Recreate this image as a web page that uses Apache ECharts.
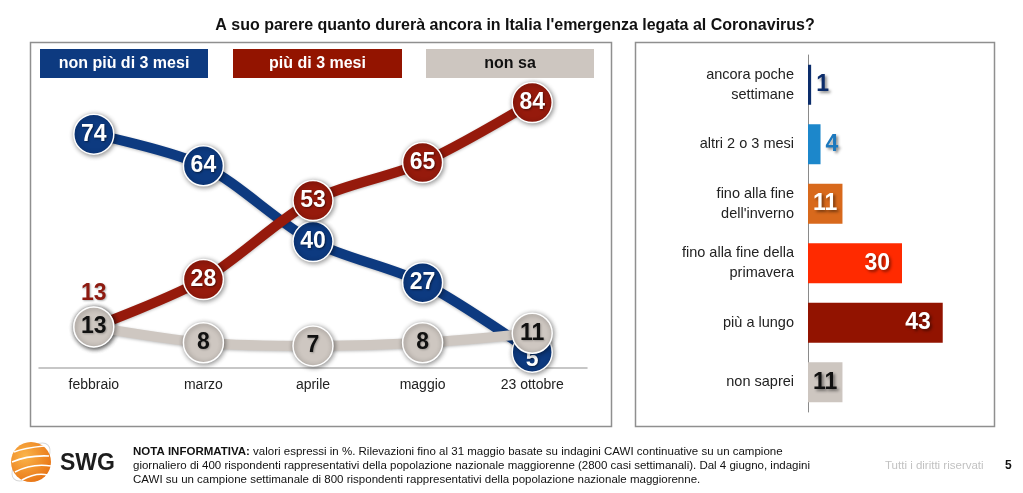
<!DOCTYPE html>
<html>
<head>
<meta charset="utf-8">
<script src="https://cdn.jsdelivr.net/npm/echarts@6/dist/echarts.min.js"></script>
<style>
html,body{margin:0;padding:0;background:#fff;}
#c{width:1023px;height:493px;}
</style>
</head>
<body>
<div id="c"></div>
<script>
// ---- data ----
const titleText = "A suo parere quanto durerà ancora in Italia l'emergenza legata al Coronavirus?";
const months = ['febbraio', 'marzo', 'aprile', 'maggio', '23 ottobre'];
const seriesNames = ['non più di 3 mesi', 'più di 3 mesi', 'non sa'];
const nonPiu3 = [74, 64, 40, 27, 5];
const piu3 = [13, 28, 53, 65, 84];
const nonSa = [13, 8, 7, 8, 11];
const barCats = ['ancora poche\nsettimane', 'altri 2 o 3 mesi', "fino alla fine\ndell'inverno", 'fino alla fine della\nprimavera', 'più a lungo', 'non saprei'];
const barVals = [1, 4, 11, 30, 43, 11];
const noteBold = 'NOTA INFORMATIVA:';
const noteLines = [
  ' valori espressi in %. Rilevazioni fino al 31 maggio basate su indagini CAWI continuative su un campione',
  'giornaliero di 400 rispondenti rappresentativi della popolazione nazionale maggiorenne (2800 casi settimanali). Dal 4 giugno, indagini',
  'CAWI su un campione settimanale di 800 rispondenti rappresentativi della popolazione nazionale maggiorenne.'
];
const rightsText = 'Tutti i diritti riservati';
const pageNum = '5';

// ---- styles ----
const FONT = 'Liberation Sans, Arial, sans-serif';
const lineColors = ['#0d3a80', '#961a0c', '#cec7c1'];
const labelColors = ['#ffffff', '#ffffff', '#111111'];
const barColors = ['#0c2d6b', '#1c87cb', '#d8691c', '#ff2a00', '#921300', '#cdc6c0'];
const barLabelPos = ['right', 'right', 'inside', 'insideRight', 'insideRight', 'inside'];
const barLabelColor = ['#0c2d6b', '#1c78bd', '#ffffff', '#ffffff', '#ffffff', '#111111'];

const chart = echarts.init(document.getElementById('c'));

function lineSeries(name, data, idx, z) {
  return {
    type: 'line',
    name: name,
    data: data,
    xAxisIndex: 0, yAxisIndex: 0,
    smooth: 0.3,
    z: z,
    symbol: 'circle',
    symbolSize: 40,
    lineStyle: { width: 10, color: lineColors[idx], shadowColor: 'rgba(0,0,0,0.25)', shadowBlur: 3, shadowOffsetY: 1 },
    itemStyle: { color: lineColors[idx], borderColor: '#ffffff', borderWidth: 1.5, shadowColor: 'rgba(0,0,0,0.45)', shadowBlur: 5, shadowOffsetX: 1, shadowOffsetY: 1 },
    label: {
      show: true, position: 'inside', color: labelColors[idx], fontFamily: FONT,
      fontWeight: 'bold', fontSize: 23,
      textShadowColor: idx === 2 ? 'rgba(0,0,0,0.25)' : 'rgba(0,0,0,0.5)', textShadowBlur: 2, textShadowOffsetX: 1, textShadowOffsetY: 1
    },
    emphasis: { disabled: true },
    animation: false
  };
}

const blueSeries = lineSeries(seriesNames[0], nonPiu3.map((v, i) => i === nonPiu3.length - 1 ? {
  value: v, label: { offset: [0, 7] }
} : v), 0, 2);

const redSeries = lineSeries(seriesNames[1], piu3.map((v, i) => i === 0 ? {
  value: v,
  label: { position: 'top', distance: 1, color: '#8e1a10', textShadowColor: 'rgba(0,0,0,0.3)' }
} : v), 1, 2);

const option = {
  animation: false,
  backgroundColor: '#ffffff',
  title: {
    text: titleText, left: 510, top: 13, textAlign: 'center',
    textStyle: { fontFamily: FONT, fontSize: 16, fontWeight: 'bold', color: '#111' }
  },
  grid: [
    { left: 39, right: 436, top: 52, bottom: 125 },
    { left: 808, right: 27, top: 55, bottom: 81 }
  ],
  xAxis: [
    {
      gridIndex: 0, type: 'category', data: months, boundaryGap: true,
      axisLine: { lineStyle: { color: '#b5b5b5', width: 1.5 } },
      axisTick: { show: false },
      axisLabel: { color: '#222', fontFamily: FONT, fontSize: 14, margin: 10 }
    },
    { gridIndex: 1, type: 'value', min: 0, max: 60, show: false }
  ],
  yAxis: [
    { gridIndex: 0, type: 'value', min: 0, max: 100, show: false },
    {
      gridIndex: 1, type: 'category', data: barCats, inverse: true,
      axisLine: { show: true, lineStyle: { color: '#8a8a8a', width: 1 } },
      axisTick: { show: false },
      axisLabel: { color: '#222', fontFamily: FONT, fontSize: 14.5, lineHeight: 20, margin: 14, align: 'right' }
    }
  ],
  series: [
    blueSeries,
    redSeries,
    lineSeries(seriesNames[2], nonSa, 2, 3),
    {
      type: 'bar', xAxisIndex: 1, yAxisIndex: 1, barWidth: 40,
      data: barVals.map((v, i) => ({
        value: v,
        itemStyle: { color: barColors[i] },
        label: { position: barLabelPos[i], color: barLabelColor[i], distance: barLabelPos[i] === 'insideRight' ? 12 : 5 }
      })),
      label: {
        show: true, fontFamily: FONT, fontWeight: 'bold', fontSize: 23,
        textShadowColor: 'rgba(0,0,0,0.45)', textShadowBlur: 3, textShadowOffsetX: 2, textShadowOffsetY: 2
      },
      emphasis: { disabled: true }
    }
  ],
  graphic: [
    // panel frames
    { type: 'rect', shape: { x: 30.5, y: 42.5, width: 581, height: 384 }, style: { fill: 'none', stroke: '#8f8f8f', lineWidth: 1.5 }, z: 0 },
    { type: 'rect', shape: { x: 635.5, y: 42.5, width: 359, height: 384 }, style: { fill: 'none', stroke: '#8f8f8f', lineWidth: 1.5 }, z: 0 },
    // legend boxes
    { type: 'rect', shape: { x: 40, y: 49, width: 168, height: 29 }, style: { fill: lineColors[0] }, z: 5 },
    { type: 'text', x: 124, y: 63.5, style: { text: seriesNames[0], fill: '#fff', font: 'bold 16px ' + FONT, align: 'center', verticalAlign: 'middle' }, z: 6 },
    { type: 'rect', shape: { x: 233, y: 49, width: 169, height: 29 }, style: { fill: '#931400' }, z: 5 },
    { type: 'text', x: 317.5, y: 63.5, style: { text: seriesNames[1], fill: '#fff', font: 'bold 16px ' + FONT, align: 'center', verticalAlign: 'middle' }, z: 6 },
    { type: 'rect', shape: { x: 426, y: 49, width: 168, height: 29 }, style: { fill: '#cdc6c0' }, z: 5 },
    { type: 'text', x: 510, y: 63.5, style: { text: seriesNames[2], fill: '#111', font: 'bold 16px ' + FONT, align: 'center', verticalAlign: 'middle' }, z: 6 },
    // logo
    { type: 'ellipse', shape: { cx: 31, cy: 462, rx: 24, ry: 12 }, rotation: Math.PI / 4, x: 0, y: 0, originX: 31, originY: 462, style: { fill: 'none', stroke: '#d8d8d8', lineWidth: 1 }, z: 5 },
    { type: 'circle', shape: { cx: 31, cy: 462, r: 20 }, style: {
        fill: { type: 'radial', x: 0.35, y: 0.35, r: 0.8, colorStops: [{ offset: 0, color: '#fbb54a' }, { offset: 1, color: '#e66d0f' }] } }, z: 6 },
    { type: 'bezierCurve', shape: { x1: 14, y1: 452, cpx1: 24, cpy1: 448, x2: 44, y2: 446 }, style: { stroke: '#fff', lineWidth: 1.6, fill: 'none' }, z: 7 },
    { type: 'bezierCurve', shape: { x1: 12, y1: 462, cpx1: 28, cpy1: 455, x2: 49, y2: 456 }, style: { stroke: '#fff', lineWidth: 1.6, fill: 'none' }, z: 7 },
    { type: 'bezierCurve', shape: { x1: 15, y1: 472, cpx1: 32, cpy1: 463, x2: 51, y2: 466 }, style: { stroke: '#fff', lineWidth: 1.6, fill: 'none' }, z: 7 },
    { type: 'bezierCurve', shape: { x1: 22, y1: 480, cpx1: 36, cpy1: 472, x2: 48, y2: 475 }, style: { stroke: '#fff', lineWidth: 1.6, fill: 'none' }, z: 7 },
    { type: 'text', x: 60, y: 464, style: { text: 'SWG', fill: '#1d1d1d', font: 'bold 23px ' + FONT, verticalAlign: 'middle' }, z: 6 },
    // note
    { type: 'text', x: 133, y: 452, style: { rich: { b: { font: 'bold 11.5px ' + FONT, fill: '#111' }, n: { font: '11.5px ' + FONT, fill: '#111' } },
        text: '{b|' + noteBold + '}{n|' + noteLines[0] + '}', verticalAlign: 'middle' }, z: 6 },
    { type: 'text', x: 133, y: 466, style: { text: noteLines[1], font: '11.5px ' + FONT, fill: '#111', verticalAlign: 'middle' }, z: 6 },
    { type: 'text', x: 133, y: 480, style: { text: noteLines[2], font: '11.5px ' + FONT, fill: '#111', verticalAlign: 'middle' }, z: 6 },
    { type: 'text', x: 885, y: 466, style: { text: rightsText, font: '11.5px ' + FONT, fill: '#c2c2c2', verticalAlign: 'middle' }, z: 6 },
    { type: 'text', x: 1005, y: 466, style: { text: pageNum, font: 'bold 12px ' + FONT, fill: '#111', verticalAlign: 'middle' }, z: 6 }
  ]
};
chart.setOption(option);
</script>
</body>
</html>
